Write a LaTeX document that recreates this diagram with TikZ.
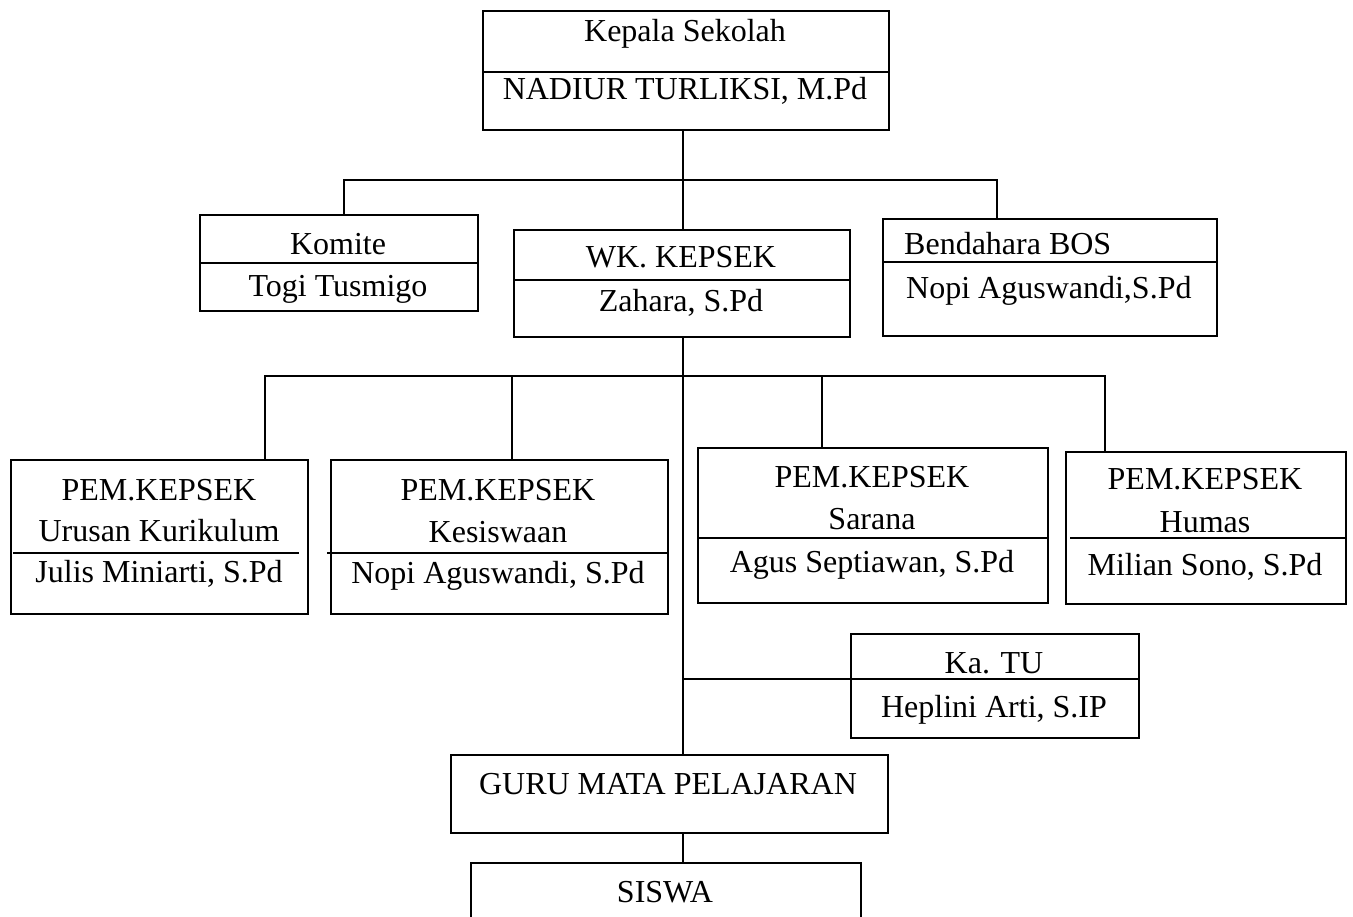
\documentclass[tikz,border=0pt]{standalone}
\usepackage{fontspec}
\setmainfont{Liberation Serif}
\usetikzlibrary{calc}
\begin{document}
\begin{tikzpicture}[x=1pt,y=-1pt,
  box/.style={draw, line width=1.8pt, rectangle, inner sep=0pt, anchor=north west},
  ln/.style={line width=1.8pt},
  lbl/.style={font=\fontsize{32}{38}\selectfont, inner sep=0pt, anchor=base},
  lbll/.style={font=\fontsize{32}{38}\selectfont, inner sep=0pt, anchor=base west}]
\useasboundingbox (0,0) rectangle (1353,917);
% boxes
\node[box, minimum width=406pt, minimum height=119pt] (kep) at (482,10) {};
\node[box, minimum width=278pt, minimum height=96pt] (kom) at (199,214) {};
\node[box, minimum width=336pt, minimum height=107pt] (wk) at (513,229) {};
\node[box, minimum width=334pt, minimum height=117pt] (ben) at (882,218) {};
\node[box, minimum width=297pt, minimum height=154pt] (pa) at (10,459) {};
\node[box, minimum width=337pt, minimum height=154pt] (pb) at (330,459) {};
\node[box, minimum width=350pt, minimum height=155pt] (pc) at (697,447) {};
\node[box, minimum width=280pt, minimum height=152pt] (pd) at (1065,451) {};
\node[box, minimum width=288pt, minimum height=104pt] (tu) at (850,633) {};
\node[box, minimum width=437pt, minimum height=78pt] (guru) at (450,754) {};
\node[box, minimum width=390pt, minimum height=80pt] (sis) at (470,862) {};
% dividers
\draw[ln] (482,72) -- (888,72);
\draw[ln] (199,263) -- (477,263);
\draw[ln] (513,280) -- (849,280);
\draw[ln] (882,262) -- (1216,262);
\draw[ln] (13,553) -- (299,553);
\draw[ln] (327,553) -- (667,553);
\draw[ln] (697,538) -- (1047,538);
\draw[ln] (1070,538) -- (1345,538);
\draw[ln] (850,679) -- (1138,679);
% texts
\node[lbl] (t1) at (685,42) {Kepala Sekolah};
\node[lbl] (t2) at (685,100) {NADIUR TURLIKSI, M.Pd};
\node[lbl] (t3) at (338,255) {Komite};
\node[lbl] (t4) at (338,297) {Togi Tusmigo};
\node[lbl] (t5) at (681,268) {WK. KEPSEK};
\node[lbl] (t6) at (681,312) {Zahara, S.Pd};
\node[lbll] (t7) at (904,255) {Bendahara BOS};
\node[lbll] (t8) at (906,299) {Nopi Aguswandi,S.Pd};
\node[lbl] (t9) at (159,500) {PEM.KEPSEK};
\node[lbl] (t10) at (159,541) {Urusan Kurikulum};
\node[lbl] (t11) at (159,582) {Julis Miniarti, S.Pd};
\node[lbl] (t12) at (498,500) {PEM.KEPSEK};
\node[lbl] (t13) at (498,542) {Kesiswaan};
\node[lbl] (t14) at (498,583) {Nopi Aguswandi, S.Pd};
\node[lbl] (t15) at (872,487) {PEM.KEPSEK};
\node[lbl] (t16) at (872,529) {Sarana};
\node[lbl] (t17) at (872,572) {Agus Septiawan, S.Pd};
\node[lbl] (t18) at (1205,489) {PEM.KEPSEK};
\node[lbl] (t19) at (1205,532) {Humas};
\node[lbl] (t20) at (1205,575) {Milian Sono, S.Pd};
\node[lbl] (t21) at (994,673) {Ka. TU};
\node[lbl] (t22) at (994,717) {Heplini Arti, S.IP};
\node[lbl] (t23) at (668,794) {GURU MATA PELAJARAN};
\node[lbl] (t24) at (665,902) {SISWA};
% junction coordinates
\coordinate (ja) at (683,180);
\coordinate (jl) at (344,180);
\coordinate (jr) at (997,180);
\coordinate (jb) at (683,376);
\coordinate (d1) at (265,376);
\coordinate (d2) at (512,376);
\coordinate (d3) at (822,376);
\coordinate (d4) at (1105,376);
\coordinate (jt) at (683,679);
% connectors
\draw[ln] (kep.south -| ja) -- (wk.north -| ja);
\draw[ln] (kom.north -| jl) -- (jl) -- (jr) -- (ben.north -| jr);
\draw[ln] (wk.south -| jb) -- (guru.north -| jb);
\draw[ln] (pa.north -| d1) -- (d1) -- (d4) -- (pd.north -| d4);
\draw[ln] (d2) -- (pb.north -| d2);
\draw[ln] (d3) -- (pc.north -| d3);
\draw[ln] (jt) -- (tu.west |- jt);
\draw[ln] (guru.south -| ja) -- (sis.north -| ja);
\end{tikzpicture}
\end{document}
